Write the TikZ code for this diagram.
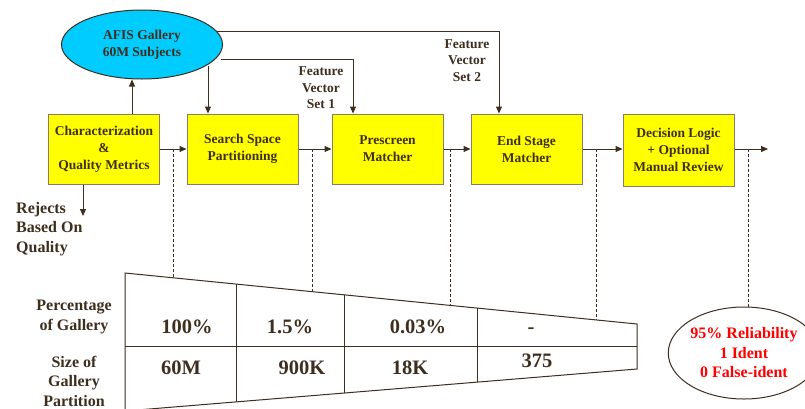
\documentclass[tikz,border=0pt]{standalone}
\usepackage{fontspec}
\setmainfont{Liberation Serif}
\usetikzlibrary{arrows.meta,shapes.geometric}
\definecolor{ink}{HTML}{3E2E1E}
\definecolor{boxedge}{HTML}{8C7B62}
\definecolor{gallery}{HTML}{00CCFF}
\definecolor{boxfill}{HTML}{FFFF00}
\definecolor{alertred}{HTML}{FF0000}
\tikzset{
  stage/.style={draw=boxedge, line width=1pt, fill=boxfill, minimum width=111pt,
    minimum height=70pt, inner sep=0pt, align=center, text=ink,
    font=\fontsize{13.5}{17}\selectfont\bfseries},
  flow/.style={draw=ink, line width=1pt, -{Triangle[length=7pt,width=6pt]}},
  guide/.style={draw=ink, line width=0.7pt, dash pattern=on 3pt off 2pt},
  grid/.style={draw=ink, line width=1pt},
  note/.style={text=ink, align=center, inner sep=0pt,
    font=\fontsize{13.5}{16.5}\selectfont\bfseries},
  rowlabel/.style={text=ink, align=center, inner sep=0pt,
    font=\fontsize{16}{19.5}\selectfont\bfseries},
  value/.style={text=ink, inner sep=0pt, font=\fontsize{20.5}{22}\selectfont\bfseries},
}
\begin{document}
\begin{tikzpicture}[x=1pt,y=-1pt]
\useasboundingbox[fill=white] (0,0) rectangle (805,408);

% gallery ellipse
\node[ellipse, draw=ink, line width=1pt, fill=gallery, minimum width=161pt,
  minimum height=69pt, inner sep=0pt, align=center, text=ink,
  font=\fontsize{13.5}{17}\selectfont\bfseries] (gal) at (142,44.5)
  {AFIS Gallery\\60M Subjects};

% processing stages
\node[stage] (char) at (104,149) {Characterization\\\&\\Quality Metrics};
\node[stage] (ssp)  at (242.5,149) {Search Space\\Partitioning};
\node[stage] (pre)  at (387.5,149) {Prescreen\\Matcher};
\node[stage] (end)  at (526.5,149) {End Stage\\Matcher};
\node[stage, minimum height=72pt] (dec) at (678.5,150) {Decision Logic\\+ Optional\\Manual Review};

% main flow
\draw[flow] (char.east) -- (ssp.west);
\draw[flow] (ssp.east) -- (pre.west);
\draw[flow] (pre.east) -- (end.west);
\draw[flow] (end.east) -- (dec.west |- end.east);
\coordinate (out) at (768,149);
\draw[flow] (dec.east |- out) -- (out);

% gallery links
\draw[flow] (char.north -| 132,0) -- (gal.south -| 132,0);
\coordinate (g1) at (208,66);
\draw[flow] (g1) -- (g1 |- ssp.north);
\coordinate (g2) at (221,59);
\coordinate (g2t) at (353,59);
\draw[flow] (g2) -- (g2t) -- (g2t |- pre.north);
\coordinate (g3) at (216,31);
\coordinate (g3t) at (499,31);
\draw[flow] (g3) -- (g3t) -- (g3t |- end.north);

\node[note] (fv1) at (321,88) {Feature\\Vector\\Set 1};
\node[note] (fv2) at (467,60.5) {Feature\\Vector\\Set 2};

% rejects
\coordinate (rj) at (83,216);
\draw[flow] (char.south -| rj) -- (rj);
\node[note, align=left, anchor=north west, font=\fontsize{16}{19.5}\selectfont\bfseries]
  (rej) at (16,202) {Rejects\\Based On\\Quality};

% partition funnel
\coordinate (tl) at (125,273);
\coordinate (tr) at (637,324);
\coordinate (br) at (637,369);
\coordinate (bl) at (125,411);
\coordinate (ml) at (125,346);
\coordinate (mr) at (637,346);
\draw[grid] (bl) -- (tl) -- (tr) -- (br) -- (bl);
\draw[grid] (ml) -- (mr);
\foreach \x [count=\i] in {236,344,477}{
  \pgfmathsetmacro{\yt}{273+0.0996*(\x-125)}
  \pgfmathsetmacro{\yb}{411-0.0820*(\x-125)}
  \coordinate (dt\i) at (\x,\yt);
  \coordinate (db\i) at (\x,\yb);
  \draw[grid] (dt\i) -- (db\i);
}

% dashed guides from the flow down to the funnel
\foreach \x [count=\i] in {173,312,450,596}{
  \pgfmathsetmacro{\yt}{273+0.0996*(\x-125)}
  \coordinate (ga\i) at (\x,149);
  \coordinate (gb\i) at (\x,\yt);
  \draw[guide] (ga\i) -- (gb\i);
}

% outcome
\node[ellipse, draw=ink, line width=1pt, fill=white, minimum width=123pt,
  minimum height=92pt, inner sep=0pt, align=center, text=alertred,
  font=\fontsize{16}{19.5}\selectfont\bfseries] (res) at (744,353)
  {95\% Reliability\\1 Ident\\0 False-ident};
\coordinate (ga5) at (748,149);
\draw[guide] (ga5) -- (ga5 |- res.north);

% row labels
\node[rowlabel] (rl1) at (74,317) {Percentage\\of Gallery};
\node[rowlabel] (rl2) at (74,381) {Size of\\Gallery\\Partition};

% values
\node[value] (v11) at (187,327) {100\%};
\node[value] (v12) at (290,327) {1.5\%};
\node[value] (v13) at (418,327) {0.03\%};
\node[value] (v14) at (531,331) {-};
\node[value] (v21) at (181,368) {60M};
\node[value] (v22) at (302,368) {900K};
\node[value] (v23) at (410,368) {18K};
\node[value] (v24) at (537,361) {375};
\end{tikzpicture}
\end{document}
